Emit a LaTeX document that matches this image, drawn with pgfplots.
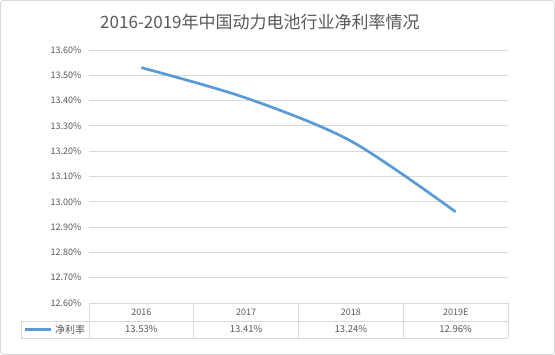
\documentclass[border=0pt]{standalone}
\usepackage{fontspec}
\setmainfont{Noto Sans CJK SC}
\usepackage{pgfplots}
\pgfplotsset{compat=1.18}
\definecolor{lineblue}{HTML}{5B9BD5}
\definecolor{gridc}{HTML}{D9D9D9}
\definecolor{txt}{HTML}{595959}
\begin{document}
\begin{tikzpicture}[x=1pt,y=1pt]
\draw[gridc, rounded corners=3pt, line width=0.8pt, fill=white] (0.5,0.5) rectangle (554.5,354.5);
\node[text=txt, font=\fontsize{17}{19}\selectfont] at (260,333) {2016-2019年中国动力电池行业净利率情况};
\begin{axis}[at={(89pt,52pt)}, anchor=south west, scale only axis,
  width=419pt, height=253pt,
  xmin=0.5, xmax=4.5, ymin=12.6, ymax=13.6,
  ytick={12.6,12.7,12.8,12.9,13.0,13.1,13.2,13.3,13.4,13.5,13.6},
  xtick=\empty,
  axis line style={draw=none},
  major tick length=0pt,
  ymajorgrids, grid style={gridc, line width=0.7pt},
  /pgf/number format/assume math mode=true,
  yticklabel={\pgfmathprintnumber[fixed, fixed zerofill, precision=2]{\tick}\%},
  yticklabel style={font=\fontsize{9}{10}\selectfont, text=txt, xshift=-4pt},
  clip=false,
]
\addplot[lineblue, line width=2.7pt, smooth, tension=0.5] coordinates {(1,13.53) (2,13.41) (3,13.24) (4,12.96)};
% data table
\draw[gridc, line width=0.7pt] (rel axis cs:-0.162,-0.0711) -- (rel axis cs:1,-0.0711);
\draw[gridc, line width=0.7pt] (rel axis cs:-0.162,-0.138) -- (rel axis cs:1,-0.138);
\pgfplotsinvokeforeach{0,0.25,0.5,0.75,1}{
  \draw[gridc, line width=0.7pt] (rel axis cs:#1,0) -- (rel axis cs:#1,-0.138);
}
\draw[gridc, line width=0.7pt] (rel axis cs:-0.162,-0.0711) -- (rel axis cs:-0.162,-0.138);
\node[text=txt, font=\fontsize{9}{10}\selectfont, yshift=-9pt] at (axis cs:1,12.6) {2016};
\node[text=txt, font=\fontsize{9}{10}\selectfont, yshift=-9pt] at (axis cs:2,12.6) {2017};
\node[text=txt, font=\fontsize{9}{10}\selectfont, yshift=-9pt] at (axis cs:3,12.6) {2018};
\node[text=txt, font=\fontsize{9}{10}\selectfont, yshift=-9pt] at (axis cs:4,12.6) {2019E};
\node[text=txt, font=\fontsize{9.5}{10}\selectfont, yshift=-26.5pt] at (axis cs:1,12.6) {13.53\%};
\node[text=txt, font=\fontsize{9.5}{10}\selectfont, yshift=-26.5pt] at (axis cs:2,12.6) {13.41\%};
\node[text=txt, font=\fontsize{9.5}{10}\selectfont, yshift=-26.5pt] at (axis cs:3,12.6) {13.24\%};
\node[text=txt, font=\fontsize{9.5}{10}\selectfont, yshift=-26.5pt] at (axis cs:4,12.6) {12.96\%};
\draw[lineblue, line width=2.7pt] (rel axis cs:-0.153,-0.1045) -- (rel axis cs:-0.091,-0.1045);
\node[text=txt, font=\fontsize{10}{11}\selectfont] at (rel axis cs:-0.045,-0.1045) {净利率};
\end{axis}
\end{tikzpicture}
\end{document}
